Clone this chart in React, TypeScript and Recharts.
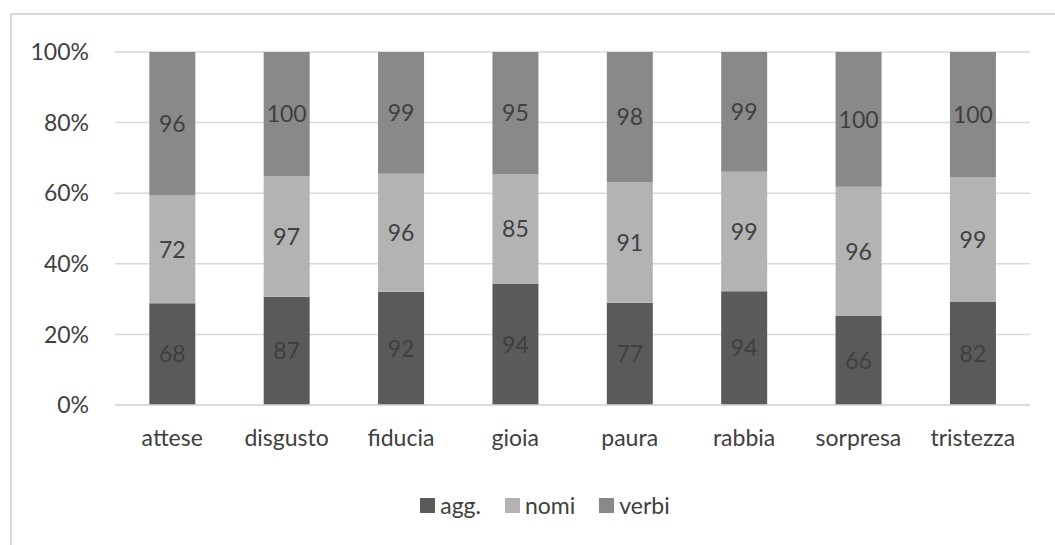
import React from 'react';
import { BarChart, Bar, XAxis, YAxis, CartesianGrid, Legend, LabelList } from 'recharts';

const emozioni = ['attese', 'disgusto', 'fiducia', 'gioia', 'paura', 'rabbia', 'sorpresa', 'tristezza'];
const agg = [68, 87, 92, 94, 77, 94, 66, 82];
const nomi = [72, 97, 96, 85, 91, 99, 96, 99];
const verbi = [96, 100, 99, 95, 98, 99, 100, 100];
const yTicks = [0, 0.2, 0.4, 0.6, 0.8, 1];

const series = [
  { key: 'agg', name: 'agg.', color: '#5a5a5a' },
  { key: 'nomi', name: 'nomi', color: '#b3b3b3' },
  { key: 'verbi', name: 'verbi', color: '#898989' },
];

const data = emozioni.map((e, i) => ({ emozione: e, agg: agg[i], nomi: nomi[i], verbi: verbi[i] }));

const FONT = 'Lato, "Open Sans", sans-serif';
const TEXT = '#404040';
const SIZE = 23;

const LegendContent = () => (
  <div style={{ height: 28, display: 'flex', justifyContent: 'center', alignItems: 'center', fontFamily: FONT, fontSize: SIZE, color: TEXT }}>
    {series.map((s) => (
      <div key={s.key} style={{ display: 'flex', alignItems: 'center', margin: '0 12px' }}>
        <span style={{ width: 15, height: 15, background: s.color, display: 'inline-block', marginRight: 5 }} />
        <span>{s.name}</span>
      </div>
    ))}
  </div>
);

export default function App() {
  return (
    <div style={{ position: 'absolute', left: 0, top: 0, width: 1055, height: 545, background: '#fff', overflow: 'hidden' }}>
      <div style={{ position: 'absolute', left: 10, top: 13, width: 1100, height: 600, borderLeft: '2px solid #d9d9d9', borderTop: '2px solid #d9d9d9' }} />
      <BarChart
        width={1055}
        height={545}
        data={data}
        stackOffset="expand"
        barCategoryGap="30%"
        margin={{ top: 52, right: 25, bottom: 82, left: 0 }}
        style={{ position: 'absolute', left: 0, top: 0 }}
      >
        <CartesianGrid vertical={false} stroke="#d9d9d9" strokeWidth={1.5} />
        <XAxis
          dataKey="emozione"
          height={30}
          axisLine={{ stroke: '#d9d9d9', strokeWidth: 1.5 }}
          tickLine={false}
          tickSize={0}
          tickMargin={25}
          tick={{ fill: TEXT, fontSize: SIZE, fontFamily: FONT }}
        />
        <YAxis
          width={115}
          domain={[0, 1]}
          ticks={yTicks}
          tickFormatter={(v: number) => `${Math.round(v * 100)}%`}
          axisLine={false}
          tickLine={false}
          tickSize={0}
          tickMargin={26}
          tick={{ fill: TEXT, fontSize: SIZE, fontFamily: FONT }}
        />
        <Legend
          verticalAlign="bottom"
          wrapperStyle={{ bottom: 26, left: 30, width: 1030 }}
          content={<LegendContent />}
        />
        {series.map((s) => (
          <Bar key={s.key} dataKey={s.key} name={s.name} stackId="a" fill={s.color} isAnimationActive={false}>
            <LabelList dataKey={s.key} position="center" fill={TEXT} fontSize={SIZE} fontFamily={FONT} />
          </Bar>
        ))}
      </BarChart>
    </div>
  );
}
